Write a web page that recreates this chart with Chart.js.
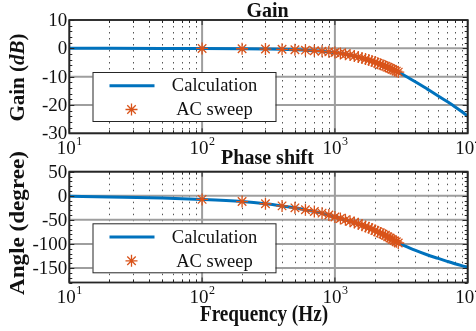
<!DOCTYPE html>
<html>
<head>
<meta charset="utf-8">
<script src="https://cdn.jsdelivr.net/npm/chart.js@4.4.1/dist/chart.umd.min.js"></script>
<style>
html, body { margin: 0; padding: 0; background: #fff; }
#wrap { position: relative; width: 476px; height: 331px; overflow: hidden; }
canvas { position: absolute; left: 0; }
</style>
</head>
<body>
<div id="wrap">
  <canvas id="gainChart" width="476" height="165" style="top:0"></canvas>
  <canvas id="phaseChart" width="476" height="191" style="top:140px"></canvas>
</div>
<script>
// calculated response
const calcFreq  = [10, 20, 50, 100, 200, 300, 400, 500, 600, 700, 800, 1000, 1200, 1500, 2000, 2500, 3000, 3500, 4000, 5000, 6000, 7000, 8000, 9000, 10000];
const calcGain  = [0, 0, -0.02, -0.05, -0.15, -0.25, -0.35, -0.5, -0.65, -0.85, -1.05, -1.5, -2.1, -3.1, -4.9, -6.7, -8.4, -10.1, -11.7, -14.5, -16.8, -18.8, -20.6, -22.3, -24.0];
const calcPhase = [-1.2, -2.5, -4.5, -7.5, -12, -16.5, -21, -25, -29, -32.5, -36, -44, -50, -58, -72, -85, -98, -106, -113, -123, -130, -136, -141, -145, -148];

// AC sweep measurements
const sweepFreq  = [100, 200, 300, 400, 500, 600, 700, 800, 900, 1000, 1100, 1200, 1300, 1400, 1500, 1600, 1700, 1800, 1900, 2000, 2100, 2200, 2300, 2400, 2500, 2600, 2700, 2800, 2900, 3000];
const sweepGain  = [-0.05, -0.15, -0.25, -0.35, -0.5, -0.65, -0.85, -1.05, -1.25, -1.5, -1.8, -2.1, -2.4, -2.75, -3.1, -3.45, -3.8, -4.15, -4.5, -4.9, -5.25, -5.6, -5.95, -6.3, -6.7, -7.05, -7.4, -7.7, -8.05, -8.4];
const sweepPhase = [-7.5, -12, -16.5, -21, -25, -29, -32.5, -36, -40, -44, -47, -50, -53, -55.5, -58, -61, -63.5, -66.5, -69, -72, -74.5, -77, -79.5, -82, -85, -87.5, -90.5, -93, -95.5, -98];

const gainTicks  = [-30, -20, -10, 0, 10];
const phaseTicks = [-150, -100, -50, 0, 50];
const decadeTicks = [10, 100, 1000, 10000];
const decadeExp   = ['1', '2', '3', '4'];

const SERIF = '"Liberation Serif","Times New Roman",serif';
const BLUE = '#0072BD';
const ORANGE = '#D95319';

const panels = {
  gainChart: {
    height: 165, areaTop: 20, areaBottom: 133.3, yMin: -30, yMax: 10,
    yTicks: gainTicks, yMinorStep: 2, calc: calcGain, sweep: sweepGain,
    title: 'Gain', titleY: 17, legendTop: 72,
    yLabel: [['Gain (', 'bold'], ['dB', 'italic bold'], [')', 'bold']], yLabelY: 77.5, yLabelSx: 1,
    xLabel: null
  },
  phaseChart: {
    height: 191, areaTop: 31.7, areaBottom: 142.5, yMin: -180, yMax: 50,
    yTicks: phaseTicks, yMinorStep: 10, calc: calcPhase, sweep: sweepPhase,
    title: 'Phase shift', titleY: 24, legendTop: 83.3,
    yLabel: [['Angle (degree)', 'bold']], yLabelY: 83, yLabelSx: 1.1,
    xLabel: 'Frequency (Hz)', xLabelY: 181
  }
};

function star(ctx, x, y, r) {
  ctx.save();
  ctx.strokeStyle = ORANGE;
  ctx.lineWidth = 1.3;
  ctx.beginPath();
  for (let k = 0; k < 4; k++) {
    const a = k * Math.PI / 4;
    ctx.moveTo(x - r * Math.cos(a), y - r * Math.sin(a));
    ctx.lineTo(x + r * Math.cos(a), y + r * Math.sin(a));
  }
  ctx.stroke();
  ctx.restore();
}

// pieces drawn centered on x=0 in the current transform
function richText(ctx, pieces, size) {
  let total = 0;
  const widths = pieces.map(([s, w]) => { ctx.font = `${w} ${size}px ${SERIF}`; const m = ctx.measureText(s).width; total += m; return m; });
  let x = -total / 2;
  ctx.textAlign = 'left';
  pieces.forEach(([s, w], i) => { ctx.font = `${w} ${size}px ${SERIF}`; ctx.fillText(s, x, 0); x += widths[i]; });
}

const bodeDecor = {
  id: 'bodeDecor',
  beforeDatasetsDraw(chart) {
    const p = panels[chart.canvas.id];
    const {ctx, chartArea: a, scales: {x, y}} = chart;
    ctx.save();
    ctx.strokeStyle = '#555';
    ctx.lineWidth = 1;
    ctx.setLineDash([1.5, 4.5]);
    ctx.beginPath();
    decadeTicks.slice(0, -1).forEach(d => {
      for (let m = 2; m <= 9; m++) {
        const px = Math.round(x.getPixelForValue(d * m)) + 0.5;
        ctx.moveTo(px, a.top); ctx.lineTo(px, a.bottom);
      }
    });
    ctx.stroke();
    ctx.setLineDash([]);
    ctx.strokeStyle = '#9e9e9e';
    ctx.lineWidth = 2;
    ctx.beginPath();
    decadeTicks.forEach(v => { const px = x.getPixelForValue(v); ctx.moveTo(px, a.top); ctx.lineTo(px, a.bottom); });
    p.yTicks.forEach(v => { const py = y.getPixelForValue(v); ctx.moveTo(a.left, py); ctx.lineTo(a.right, py); });
    ctx.stroke();
    ctx.restore();
  },
  afterDatasetsDraw(chart) {
    const p = panels[chart.canvas.id];
    const {ctx, chartArea: a, scales: {x, y}} = chart;
    ctx.save();

    // tick marks inside the box
    ctx.strokeStyle = '#262626';
    ctx.lineWidth = 1;
    ctx.beginPath();
    decadeTicks.forEach((d, i) => {
      const px = x.getPixelForValue(d);
      ctx.moveTo(px, a.bottom); ctx.lineTo(px, a.bottom - 5);
      ctx.moveTo(px, a.top); ctx.lineTo(px, a.top + 5);
      if (i < decadeTicks.length - 1) {
        for (let m = 2; m <= 9; m++) {
          const q = Math.round(x.getPixelForValue(d * m)) + 0.5;
          ctx.moveTo(q, a.bottom); ctx.lineTo(q, a.bottom - 3);
          ctx.moveTo(q, a.top); ctx.lineTo(q, a.top + 3);
        }
      }
    });
    for (let v = p.yMin; v <= p.yMax; v += p.yMinorStep) {
      const py = Math.round(y.getPixelForValue(v)) + 0.5;
      const len = p.yTicks.includes(v) ? 5 : 3;
      ctx.moveTo(a.left, py); ctx.lineTo(a.left + len, py);
      ctx.moveTo(a.right, py); ctx.lineTo(a.right - len, py);
    }
    ctx.stroke();

    // frame
    ctx.lineWidth = 1.8;
    ctx.strokeRect(a.left, a.top, a.right - a.left, a.bottom - a.top);

    // legend
    const lx = 92.5, lt = p.legendTop, lw = 183, lh = 49;
    ctx.fillStyle = '#fff';
    ctx.fillRect(lx, lt, lw, lh);
    ctx.lineWidth = 1;
    ctx.strokeStyle = '#262626';
    ctx.strokeRect(lx + 0.5, lt + 0.5, lw, lh);
    ctx.strokeStyle = BLUE;
    ctx.lineWidth = 3;
    ctx.beginPath();
    ctx.moveTo(lx + 17, lt + 13.7); ctx.lineTo(lx + 62, lt + 13.7);
    ctx.stroke();
    star(ctx, lx + 39, lt + 37.5, 6);
    ctx.fillStyle = '#111';
    ctx.font = `18.5px ${SERIF}`;
    ctx.textAlign = 'center';
    ctx.textBaseline = 'middle';
    ctx.fillText('Calculation', lx + 122, lt + 14.5);
    ctx.fillText('AC sweep', lx + 122, lt + 38.5);

    // y tick labels
    ctx.font = `19px ${SERIF}`;
    ctx.textAlign = 'right';
    p.yTicks.forEach(v => ctx.fillText(String(v), a.left - 2, y.getPixelForValue(v) + 1));

    // x tick labels 10^n
    ctx.textBaseline = 'alphabetic';
    ctx.textAlign = 'left';
    decadeTicks.forEach((d, i) => {
      ctx.font = `19px ${SERIF}`;
      const w1 = ctx.measureText('10').width;
      ctx.font = `12px ${SERIF}`;
      const w2 = ctx.measureText(decadeExp[i]).width;
      const x0 = x.getPixelForValue(d) - (w1 + w2) / 2;
      const base = a.bottom + 20.8;
      ctx.font = `19px ${SERIF}`;
      ctx.fillText('10', x0, base);
      ctx.font = `12px ${SERIF}`;
      ctx.fillText(decadeExp[i], x0 + w1 + 0.5, base - 9.5);
    });

    // title
    ctx.save();
    ctx.translate((a.left + a.right) / 2 - 1, p.titleY);
    richText(ctx, [[p.title, 'bold']], 20);
    ctx.restore();

    // y axis label
    ctx.save();
    ctx.translate(24, p.yLabelY);
    ctx.rotate(-Math.PI / 2);
    ctx.scale(p.yLabelSx, 1);
    richText(ctx, p.yLabel, 21);
    ctx.restore();

    // x axis label
    if (p.xLabel) {
      ctx.save();
      ctx.translate(264, p.xLabelY);
      ctx.scale(0.8, 1);
      richText(ctx, [[p.xLabel, 'bold']], 24);
      ctx.restore();
    }
    ctx.restore();
  }
};

function makeChart(id) {
  const p = panels[id];
  return new Chart(document.getElementById(id), {
    type: 'line',
    data: {
      datasets: [
        {
          label: 'AC sweep',
          data: sweepFreq.map((f, i) => ({x: f, y: p.sweep[i]})),
          showLine: false,
          pointStyle: 'star',
          pointRadius: 6,
          pointBorderWidth: 1.3,
          pointBorderColor: ORANGE,
          pointBackgroundColor: ORANGE,
          borderColor: ORANGE,
          order: 0
        },
        {
          label: 'Calculation',
          data: calcFreq.map((f, i) => ({x: f, y: p.calc[i]})),
          borderColor: BLUE,
          borderWidth: 3,
          pointRadius: 0,
          cubicInterpolationMode: 'monotone',
          order: 1
        }
      ]
    },
    options: {
      responsive: false,
      animation: false,
      devicePixelRatio: 1,
      layout: {padding: {left: 0, right: 476 - 467.7, top: p.areaTop, bottom: 0}},
      scales: {
        x: {
          type: 'logarithmic', min: 10, max: 10000,
          ticks: {display: false}, grid: {display: false}, border: {display: false},
          afterFit: s => { s.height = p.height - p.areaBottom; }
        },
        y: {
          type: 'linear', min: p.yMin, max: p.yMax,
          ticks: {display: false}, grid: {display: false}, border: {display: false},
          afterFit: s => { s.width = 69.3; }
        }
      },
      plugins: {legend: {display: false}, tooltip: {enabled: false}}
    },
    plugins: [bodeDecor]
  });
}

makeChart('gainChart');
makeChart('phaseChart');
</script>
</body>
</html>
